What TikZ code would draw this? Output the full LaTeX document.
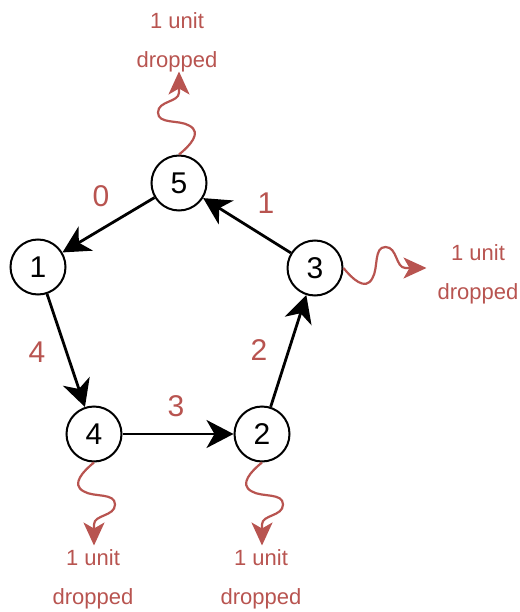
\documentclass[tikz,border=0pt]{standalone}
\usepackage{fontspec}
\setmainfont{Liberation Sans}
\usetikzlibrary{arrows.meta}
\definecolor{lossred}{HTML}{B85450}
\begin{document}
\begin{tikzpicture}[x=1pt,y=-1pt,
  station/.style={circle,draw,line width=2pt,minimum size=55pt,inner sep=0pt,
    font=\fontsize{30}{30}\selectfont},
  flow/.style={line width=2.8pt,-{Stealth[length=27pt,width=28pt,inset=8pt]}},
  weight/.style={text=lossred,inner sep=0pt,font=\fontsize{30}{30}\selectfont},
  lossline/.style={draw=lossred,line width=2.2pt,
    -{Stealth[length=23pt,width=21pt,inset=6pt]}},
  losstext/.style={text=lossred,align=center,inner sep=0pt,anchor=north,
    font=\fontsize{22}{39}\selectfont},
  pics/loss/.style={code={
    \draw[lossline] (0,0) .. controls (-10,8) and (-24,22) .. (-10,29)
      .. controls (0,35) and (21,30) .. (21,42)
      .. controls (21,54) and (0,52) .. (0,62) -- (0,83);}}
]
\useasboundingbox (0,0) rectangle (519,612);

% stations
\node[station] (n5) at (179,183) {5};
\node[station] (n1) at (38,267) {1};
\node[station] (n3) at (315,268) {3};
\node[station] (n4) at (94,434) {4};
\node[station] (n2) at (262,434) {2};

% ring of transfers
\draw[flow] (n5) -- (n1);
\draw[flow] (n1) -- (n4);
\draw[flow] (n4) -- (n2);
\draw[flow] (n2) -- (n3);
\draw[flow] (n3) -- (n5);

% transfer amounts
\node[weight] (w0) at (101,196) {0};
\node[weight] (w1) at (266,203) {1};
\node[weight] (w2) at (259,350) {2};
\node[weight] (w3) at (176,406) {3};
\node[weight] (w4) at (37,352) {4};

% losses
\pic[rotate=180] at (n5.north) {loss};
\pic[rotate=90] at (n3.east) {loss};
\pic at (n4.south) {loss};
\pic at (n2.south) {loss};

\node[losstext] (t5) at (177,12) {1 unit\\dropped};
\node[losstext] (t3) at (478,244) {1 unit\\dropped};
\node[losstext] (t4) at (93,549) {1 unit\\dropped};
\node[losstext] (t2) at (261,549) {1 unit\\dropped};
\end{tikzpicture}
\end{document}
